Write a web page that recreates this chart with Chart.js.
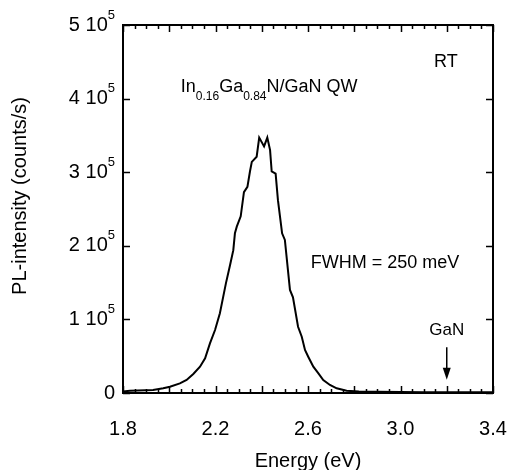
<!DOCTYPE html>
<html>
<head>
<meta charset="utf-8">
<script src="https://cdn.jsdelivr.net/npm/chart.js@4"></script>
<style>
  html, body { margin: 0; padding: 0; background: #fff; }
  #wrap { width: 510px; height: 470px; }
</style>
</head>
<body>
<div id="wrap"><canvas id="pl" width="510" height="470"></canvas></div>
<script>
// PL spectrum (energy in eV, intensity in counts/s)
const energy = [1.80, 1.83, 1.93, 1.974, 2.003, 2.046, 2.075, 2.104, 2.133, 2.155, 2.176, 2.198, 2.219,
  2.245, 2.263, 2.277, 2.284, 2.292, 2.309, 2.323, 2.338, 2.349, 2.357, 2.378, 2.389, 2.41, 2.424,
  2.436, 2.443, 2.46, 2.47, 2.488, 2.50, 2.522, 2.535, 2.557, 2.573, 2.587, 2.601, 2.623, 2.645,
  2.666, 2.695, 2.724, 2.767, 2.82, 2.90, 3.00, 3.10, 3.20, 3.30, 3.40];
const intensity = [2000, 3000, 4100, 6400, 8600, 13100, 17700, 25800, 35700, 47100, 67500, 85600, 108300,
  149000, 174000, 194000, 217000, 226000, 240000, 273000, 280000, 301000, 314000, 321000, 347000, 335000, 347000,
  330000, 301000, 298000, 262000, 217000, 208000, 140000, 130000, 90000, 76500, 58400, 49300, 35700, 26700,
  17700, 10900, 6400, 3100, 2200, 1800, 1400, 1000, 1000, 1000, 1000];

const xLabels = [1.8, 2.2, 2.6, 3.0, 3.4];
const yLabels = [0, 1, 2, 3, 4, 5];   // multiples of 10^5
const ganEdge = 3.2;                  // GaN band-edge marker (eV)

const FONT = '"Liberation Sans", Arial, sans-serif';

const frame = {
  id: 'frame',
  afterDatasetsDraw(chart) {
    const { ctx, chartArea: a, scales: { x, y } } = chart;
    ctx.save();
    ctx.strokeStyle = '#000';
    ctx.fillStyle = '#000';

    // box
    ctx.lineWidth = 2;
    ctx.strokeRect(a.left, a.top, a.right - a.left, a.bottom - a.top);

    // x ticks: minor every 0.05, major every 0.2, inward top and bottom
    ctx.lineWidth = 1.5;
    ctx.beginPath();
    for (let i = 0; i <= 32; i++) {
      const v = 1.8 + i * 0.05;
      const px = Math.round(x.getPixelForValue(v)) + 0.5;
      const len = i % 4 === 0 ? 7 : 4;
      ctx.moveTo(px, a.bottom); ctx.lineTo(px, a.bottom - len);
      ctx.moveTo(px, a.top); ctx.lineTo(px, a.top + len);
    }
    // y ticks: major every 1e5, inward left and right
    yLabels.forEach(n => {
      const py = Math.round(y.getPixelForValue(n * 1e5)) + 0.5;
      ctx.moveTo(a.left, py); ctx.lineTo(a.left + 7, py);
      ctx.moveTo(a.right, py); ctx.lineTo(a.right - 7, py);
    });
    ctx.stroke();

    // x tick labels
    ctx.font = '20px ' + FONT;
    ctx.textAlign = 'center';
    ctx.textBaseline = 'alphabetic';
    xLabels.forEach(v => {
      ctx.fillText(v.toFixed(1), x.getPixelForValue(v), 435);
    });

    // y tick labels "n 10^5"
    yLabels.forEach(n => {
      const py = y.getPixelForValue(n * 1e5);
      const right = 115;
      ctx.textBaseline = 'middle';
      if (n === 0) {
        ctx.font = '20px ' + FONT;
        ctx.textAlign = 'right';
        ctx.fillText('0', right, py);
        return;
      }
      ctx.font = '13px ' + FONT;
      ctx.textAlign = 'right';
      ctx.fillText('5', right, py - 10);
      const sw = ctx.measureText('5').width;
      ctx.font = '20px ' + FONT;
      ctx.fillText(n + ' 10', right - sw, py);
    });

    // axis titles
    ctx.font = '20px ' + FONT;
    ctx.textAlign = 'center';
    ctx.textBaseline = 'alphabetic';
    ctx.fillText('Energy (eV)', (a.left + a.right) / 2, 467);
    ctx.save();
    ctx.translate(20, 196);
    ctx.rotate(-Math.PI / 2);
    ctx.textBaseline = 'middle';
    ctx.fillText('PL-intensity (counts/s)', 0, 0);
    ctx.restore();

    // annotations
    ctx.textAlign = 'left';
    ctx.textBaseline = 'alphabetic';
    ctx.font = '18px ' + FONT;
    ctx.fillText('RT', x.getPixelForValue(3.145), y.getPixelForValue(4.43e5));
    ctx.fillText('FWHM = 250 meV', x.getPixelForValue(2.612), y.getPixelForValue(1.70e5));

    // In0.16Ga0.84N/GaN QW with subscripts
    let tx = x.getPixelForValue(2.05);
    const ty = y.getPixelForValue(4.09e5);
    const parts = [['In', 18, 0], ['0.16', 12, 8], ['Ga', 18, 0], ['0.84', 12, 8], ['N/GaN QW', 18, 0]];
    parts.forEach(([t, size, dy]) => {
      ctx.font = size + 'px ' + FONT;
      ctx.fillText(t, tx, ty + dy);
      tx += ctx.measureText(t).width;
    });

    // GaN arrow
    const gx = x.getPixelForValue(ganEdge);
    ctx.font = '17px ' + FONT;
    ctx.textAlign = 'center';
    ctx.fillText('GaN', gx, y.getPixelForValue(0.79e5));
    ctx.lineWidth = 1.5;
    ctx.beginPath();
    ctx.moveTo(gx, y.getPixelForValue(0.62e5));
    ctx.lineTo(gx, y.getPixelForValue(0.30e5));
    ctx.stroke();
    const tip = y.getPixelForValue(0.18e5);
    ctx.beginPath();
    ctx.moveTo(gx, tip);
    ctx.lineTo(gx - 4, tip - 12);
    ctx.lineTo(gx + 4, tip - 12);
    ctx.closePath();
    ctx.fill();

    ctx.restore();
  }
};

new Chart(document.getElementById('pl'), {
  type: 'line',
  data: {
    datasets: [{
      data: energy.map((e, i) => ({ x: e, y: intensity[i] })),
      borderColor: '#000',
      borderWidth: 2,
      pointRadius: 0,
      tension: 0,
      fill: false,
    }],
  },
  options: {
    responsive: false,
    animation: false,
    devicePixelRatio: 1,
    layout: { padding: { left: 123, right: 17, top: 25, bottom: 77 } },
    plugins: { legend: { display: false }, tooltip: { enabled: false } },
    scales: {
      x: { type: 'linear', min: 1.8, max: 3.4, display: false },
      y: { min: 0, max: 500000, display: false },
    },
  },
  plugins: [frame],
});
</script>
</body>
</html>
